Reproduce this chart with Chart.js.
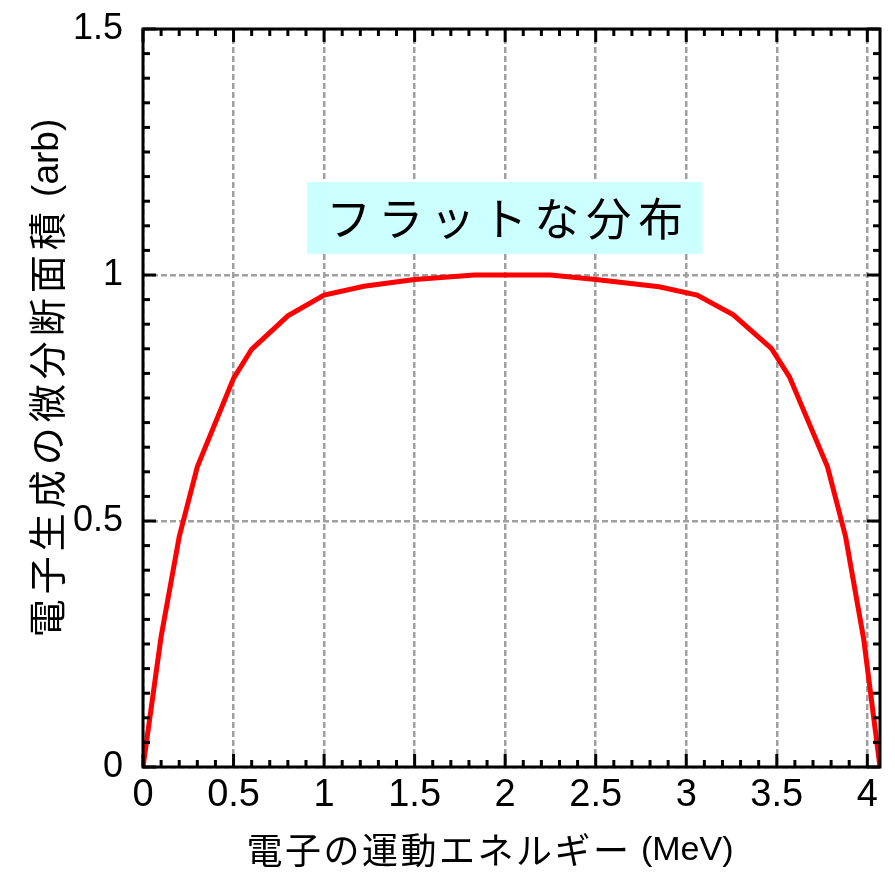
<!DOCTYPE html>
<html>
<head>
<meta charset="utf-8">
<script src="https://cdn.jsdelivr.net/npm/chart.js@4/dist/chart.umd.min.js"></script>
<style>
  html, body { margin: 0; padding: 0; background: #ffffff; }
  canvas { display: block; }
</style>
</head>
<body>
<canvas id="spectrum" width="895" height="874"></canvas>
<script>
// Electron kinetic energy (MeV) at each vertex of the curve
const energyMeV = [0, 0.1, 0.2, 0.3, 0.5, 0.6, 0.8, 1.0, 1.22, 1.5, 1.83,
                   2.25, 2.5, 2.85, 3.06, 3.26, 3.47, 3.57, 3.78, 3.88, 3.98, 4.07];
// Differential cross section for electron production (arbitrary units)
const crossSection = [0, 0.265, 0.468, 0.61, 0.79, 0.849, 0.917, 0.959, 0.977, 0.991, 1.0,
                      1.0, 0.991, 0.976, 0.959, 0.919, 0.851, 0.793, 0.61, 0.468, 0.26, 0];

// Labelled tick values
const xTicks = [0, 0.5, 1, 1.5, 2, 2.5, 3, 3.5, 4];
const yTicks = [0, 0.5, 1, 1.5];

const xTitleJa = '電子の運動エネルギー';
const xTitleUnit = ' (MeV)';
const yTitleJa = '電子生成の微分断面積';
const yTitleUnit = ' (arb)';
const noteText = 'フラットな分布';

const X_MAX = 4.07;
const Y_MAX = 1.5;

const LATIN = '"Liberation Sans", Arial, sans-serif';
const CJK = '"Noto Sans CJK JP", "Noto Sans", sans-serif';

// Frame with inward major/minor ticks on all four sides
const framePlugin = {
  id: 'frame',
  afterDatasetsDraw(chart) {
    const { ctx, chartArea: a, scales: { x, y } } = chart;
    ctx.save();
    ctx.strokeStyle = '#000000';
    ctx.lineWidth = 3;
    ctx.lineCap = 'butt';
    const seg = (x1, y1, x2, y2) => { ctx.beginPath(); ctx.moveTo(x1, y1); ctx.lineTo(x2, y2); ctx.stroke(); };
    for (let k = 0; k / 10 <= X_MAX + 1e-9; k++) {
      const px = x.getPixelForValue(k / 10);
      const len = k % 5 === 0 ? 13 : 7;
      seg(px, a.bottom, px, a.bottom - len);
      seg(px, a.top, px, a.top + len);
    }
    for (let k = 0; k / 20 <= Y_MAX + 1e-9; k++) {
      const py = y.getPixelForValue(k / 20);
      const len = k % 10 === 0 ? 13 : 7;
      seg(a.left, py, a.left + len, py);
      seg(a.right, py, a.right - len, py);
    }
    ctx.strokeRect(a.left, a.top, a.right - a.left, a.bottom - a.top);
    ctx.restore();
  }
};

// Highlighted note above the plateau
const noteBox = { x0: 0.905, x1: 3.09, y0: 1.043, y1: 1.189 };
const notePlugin = {
  id: 'note',
  afterDatasetsDraw(chart) {
    const { ctx, scales: { x, y } } = chart;
    const l = x.getPixelForValue(noteBox.x0), r = x.getPixelForValue(noteBox.x1);
    const t = y.getPixelForValue(noteBox.y1), b = y.getPixelForValue(noteBox.y0);
    ctx.save();
    ctx.fillStyle = '#ccffff';
    ctx.fillRect(l, t, r - l, b - t);
    ctx.fillStyle = '#000000';
    ctx.font = '400 45px ' + CJK;
    const sp = 7;
    ctx.letterSpacing = sp + 'px';
    ctx.textAlign = 'left';
    ctx.textBaseline = 'middle';
    const w = ctx.measureText(noteText).width - sp;
    ctx.fillText(noteText, (l + r) / 2 - w / 2, (t + b) / 2 + 1);
    ctx.restore();
  }
};

// Axis titles: Japanese text followed by the unit in a Latin face
function drawMixed(ctx, ja, unit, cx, cy, jaSize, jaSpacing, unitSize) {
  ctx.font = jaSize + 'px ' + CJK;
  ctx.letterSpacing = jaSpacing + 'px';
  const w1 = ctx.measureText(ja).width;
  ctx.font = unitSize + 'px ' + LATIN;
  ctx.letterSpacing = '0px';
  const w2 = ctx.measureText(unit).width;
  const start = cx - (w1 + w2) / 2;
  ctx.textAlign = 'left';
  ctx.textBaseline = 'middle';
  ctx.font = jaSize + 'px ' + CJK;
  ctx.letterSpacing = jaSpacing + 'px';
  ctx.fillText(ja, start, cy);
  ctx.font = unitSize + 'px ' + LATIN;
  ctx.letterSpacing = '0px';
  ctx.fillText(unit, start + w1, cy + 1);
}
const titlePlugin = {
  id: 'axisTitles',
  afterDraw(chart) {
    const { ctx } = chart;
    ctx.save();
    ctx.fillStyle = '#000000';
    drawMixed(ctx, xTitleJa, xTitleUnit, 490, 850, 36, 2.5, 34);
    ctx.translate(47, 378);
    ctx.rotate(-Math.PI / 2);
    drawMixed(ctx, yTitleJa, yTitleUnit, 0, 0, 38, 5, 37);
    ctx.restore();
  }
};

new Chart(document.getElementById('spectrum'), {
  type: 'scatter',
  data: {
    datasets: [{
      data: energyMeV.map((e, i) => ({ x: e, y: crossSection[i] })),
      showLine: true,
      borderColor: '#ff0000',
      borderWidth: 5,
      pointRadius: 0,
      tension: 0,
      fill: false
    }]
  },
  options: {
    responsive: false,
    animation: false,
    devicePixelRatio: 1,
    layout: { padding: { left: 0, right: 15, top: 29, bottom: 0 } },
    plugins: { legend: { display: false }, tooltip: { enabled: false } },
    scales: {
      x: {
        type: 'linear',
        min: 0,
        max: X_MAX,
        afterBuildTicks: s => { s.ticks = xTicks.map(v => ({ value: v })); },
        afterFit: s => { s.height = 107; },
        ticks: {
          color: '#000000',
          font: { family: LATIN, size: 38 },
          padding: 6,
          maxRotation: 0,
          callback: v => String(v)
        },
        grid: { color: '#a0a0a0', lineWidth: 2.5, drawTicks: false },
        border: { display: false, dash: [6, 3] }
      },
      y: {
        type: 'linear',
        min: 0,
        max: Y_MAX,
        afterBuildTicks: s => { s.ticks = yTicks.map(v => ({ value: v })); },
        afterFit: s => { s.width = 143; },
        ticks: {
          color: '#000000',
          font: { family: LATIN, size: 36, lineHeight: 0.2 },
          padding: 20,
          callback: v => String(v)
        },
        grid: { color: '#a0a0a0', lineWidth: 2.5, drawTicks: false },
        border: { display: false, dash: [6, 3] }
      }
    }
  },
  plugins: [notePlugin, framePlugin, titlePlugin]
});
</script>
</body>
</html>
